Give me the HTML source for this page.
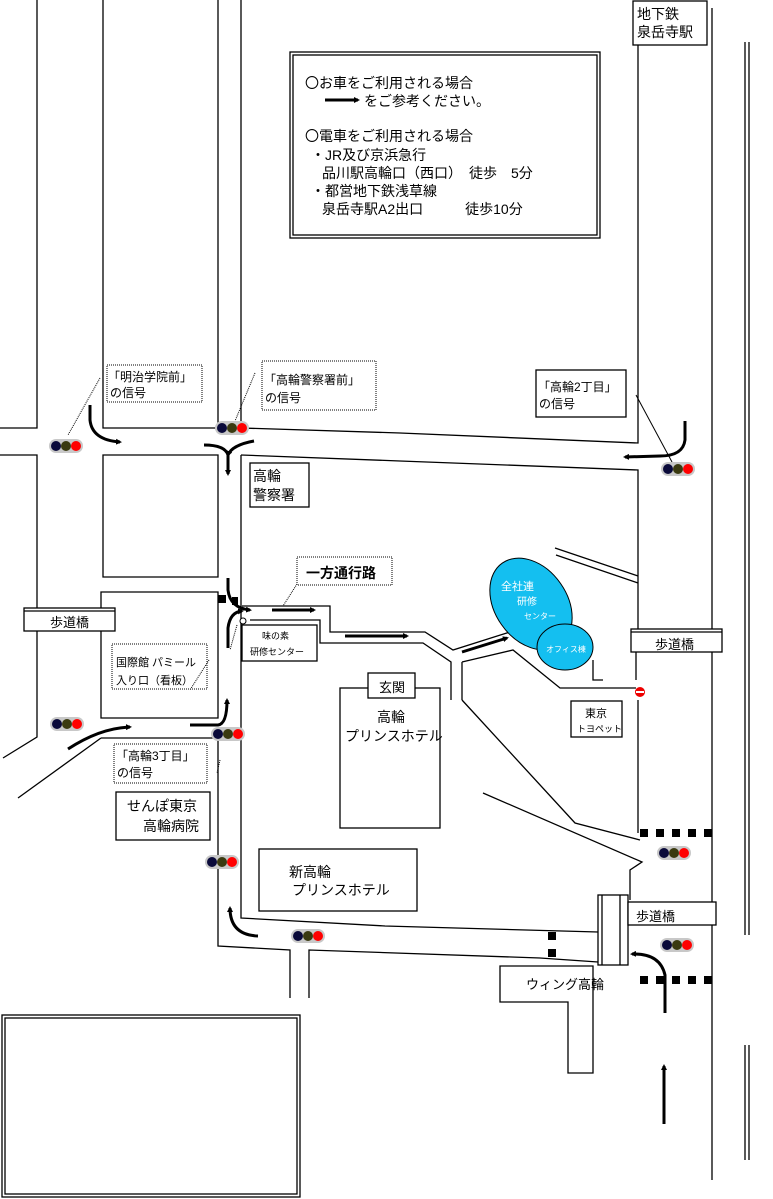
<!DOCTYPE html>
<html><head><meta charset="utf-8"><style>
body{margin:0;background:#fff;}
svg{display:block;font-family:"Liberation Sans","Noto Sans CJK JP",sans-serif;}
</style></head><body>
<svg width="773" height="1199" viewBox="0 0 773 1199" font-size="13">
<defs>
<marker id="ah" markerWidth="6" markerHeight="6" refX="4" refY="3" orient="auto" markerUnits="userSpaceOnUse"><path d="M0,0 L6,3 L0,6 z" fill="#000"/></marker>
<g id="sig"><rect x="-17" y="-7" width="34" height="14" rx="7" fill="#c8c8c8"/><circle cx="-10" cy="0" r="5" fill="#0a0a3a"/><circle cx="0" cy="0" r="5" fill="#3a3a10"/><circle cx="10" cy="0" r="5" fill="#ff0000"/></g>
</defs>
<g stroke="#000" stroke-width="1.3" fill="none">
<path d="M37,0V428H0"/><path d="M103,0V428H218V0"/><path d="M241,0V428L400,433L638,443V45"/>
<path d="M0,455H37V737L3,758"/>
<path d="M241,455L400,461L638,470V650"/>
<path d="M103,455H218V577H103Z"/>
<path d="M101,592H218V718H101Z"/>
<path d="M101,738H218V946L290,950V998"/>
<path d="M101,738L18,798"/>
<path d="M241,455V918L385,926L598,932"/>
<path d="M309,998V950L540,958L598,962"/>
<path d="M712,8V1180"/>
<path d="M745,42V935M749,42V935M745,1045V1160M749,1045V1160"/>
<path d="M242,606H330V632H425L453,650L513,631"/>
<path d="M250,620H320V643H423L451,662V700"/>
<path d="M462,662V700M462,662L513,650L560,688H636"/>
<path d="M462,700L575,823L640,840"/>
<path d="M483,793L642,862L630,870V900"/>
<path d="M638,700V833"/>
<path d="M555,548L638,576M556,555L638,583"/>
<path d="M593,660V680H603M636,652V680"/>
<rect x="290" y="52" width="310" height="186"/><rect x="293" y="55" width="304" height="180"/>
<rect x="2" y="1015" width="298" height="182"/><rect x="5" y="1018" width="292" height="176"/>
<rect x="250" y="463" width="59" height="44"/>
<rect x="242" y="625" width="75" height="36"/>
<rect x="340" y="688" width="100" height="140"/>
<rect x="368" y="673" width="47" height="25" fill="#fff"/>
<rect x="571" y="701" width="51" height="36"/>
<rect x="116" y="792" width="94" height="48"/>
<rect x="259" y="849" width="158" height="62"/>
<rect x="633" y="1" width="74" height="44" fill="#fff"/>
<rect x="536" y="370" width="90" height="47"/>
<rect x="24" y="608" width="91" height="23" fill="#fff"/><path d="M24,611H115"/>
<rect x="631" y="629" width="91" height="23" fill="#fff"/><path d="M631,632H722"/>
<rect x="598" y="895" width="30" height="70" fill="#fff"/><path d="M602,895V965M620,895V965"/>
<rect x="628" y="902" width="88" height="23" fill="#fff"/>
<path d="M500,966H593V1073H568V1002H500Z" fill="#fff"/>
</g>
<g stroke="#000" stroke-width="1" stroke-dasharray="1,1" fill="none">
<rect x="107" y="365" width="95" height="37"/><rect x="262" y="361" width="114" height="49"/>
<rect x="114" y="744" width="93" height="39"/><rect x="112" y="644" width="95" height="45"/>
<rect x="297" y="557" width="95" height="28"/>
<path d="M100,378L68,435M255,373L235,421M209,660L190,690M220,760L217,773M297,584L283,606M237,625L230,650"/>
</g>
<path d="M636,395L672,462" stroke="#000" stroke-width="1"/>
<g fill="#000">
<rect x="218" y="595" width="8" height="8"/><rect x="232" y="597" width="6" height="8"/>
<rect x="640" y="829" width="8" height="8"/><rect x="656" y="829" width="8" height="8"/><rect x="672" y="829" width="8" height="8"/><rect x="688" y="829" width="8" height="8"/><rect x="704" y="829" width="8" height="8"/>
<rect x="640" y="976" width="8" height="8"/><rect x="656" y="976" width="8" height="8"/><rect x="672" y="976" width="8" height="8"/><rect x="688" y="976" width="8" height="8"/><rect x="704" y="976" width="8" height="8"/>
<rect x="548" y="932" width="8" height="8"/><rect x="548" y="949" width="8" height="8"/>
</g>
<ellipse cx="531" cy="604" rx="50" ry="36" transform="rotate(55 531 604)" fill="#14bff0" stroke="#000"/>
<ellipse cx="565" cy="647" rx="28" ry="23" fill="#14bff0" stroke="#000"/>
<circle cx="640" cy="692" r="5" fill="#e00"/><rect x="636" y="691" width="8" height="2" fill="#fff"/>
<circle cx="243" cy="621" r="3" fill="#fff" stroke="#000"/>
<g stroke="#000" stroke-width="3" fill="none" marker-end="url(#ah)">
<path d="M90,405V420Q92,440 120,442"/>
<path d="M204,445Q225,445 228,455V474"/><path d="M254,441Q232,445 228,455"/>
<path d="M685,421V440Q683,456 660,456L625,457"/>
<path d="M228,578V590Q230,608 250,610"/>
<path d="M228,648V628Q230,612 242,611"/>
<path d="M68,749Q100,728 130,727"/><path d="M190,725H218Q227,724 227,700"/>
<path d="M272,610H314"/><path d="M345,636H407"/><path d="M462,652L507,638"/>
<path d="M258,936Q230,935 230,908"/>
<path d="M665,1013V975Q660,953 632,954"/>
<path d="M664,1124V1066"/>
<path d="M325,100H358"/>
</g>
<g>
<use href="#sig" x="66" y="446"/><use href="#sig" x="232" y="428"/><use href="#sig" x="678" y="469"/>
<use href="#sig" x="67" y="724"/><use href="#sig" x="228" y="734"/><use href="#sig" x="222" y="862"/>
<use href="#sig" x="308" y="936"/><use href="#sig" x="674" y="853"/><use href="#sig" x="677" y="945"/>
</g>
<text x="305" y="88" font-size="14">〇お車をご利用される場合</text>
<text x="364" y="106" font-size="14">をご参考ください。</text>
<text x="305" y="141" font-size="14">〇電車をご利用される場合</text>
<text x="311" y="160" font-size="14">・JR及び京浜急行</text>
<text x="322" y="178" font-size="14">品川駅高輪口（西口）　徒歩　5分</text>
<text x="311" y="196" font-size="14">・都営地下鉄浅草線</text>
<text x="322" y="214" font-size="14">泉岳寺駅A2出口　　　徒歩10分</text>
<text x="637" y="19" font-size="14">地下鉄</text><text x="637" y="37" font-size="14">泉岳寺駅</text>
<text x="108" y="381" font-size="12">「明治学院前」</text><text x="110" y="397" font-size="12">の信号</text>
<text x="264" y="384" font-size="12">「高輪警察署前」</text><text x="265" y="402" font-size="12">の信号</text>
<text x="538" y="391" font-size="12">「高輪2丁目」</text><text x="539" y="408" font-size="12">の信号</text>
<text x="253" y="481" font-size="14">高輪</text><text x="253" y="500" font-size="14">警察署</text>
<text x="306" y="578" font-weight="bold" font-size="14">一方通行路</text>
<text x="50" y="627">歩道橋</text>
<text x="655" y="649">歩道橋</text>
<text x="636" y="921">歩道橋</text>
<text x="262" y="639" font-size="9">味の素</text><text x="250" y="655" font-size="9">研修センター</text>
<text x="116" y="666" font-size="11">国際館 パミール</text><text x="116" y="684" font-size="11">入り口（看板）</text>
<text x="501" y="590" font-size="11" fill="#fff">全社連</text>
<text x="517" y="605" font-size="10" fill="#fff">研修</text>
<text x="524" y="619" font-size="8" fill="#fff">センター</text>
<text x="546" y="652" font-size="8" fill="#fff">オフィス棟</text>
<text x="379" y="692">玄関</text>
<text x="377" y="722" font-size="14">高輪</text><text x="345" y="741" font-size="14">プリンスホテル</text>
<text x="585" y="717" font-size="11">東京</text><text x="577" y="732" font-size="9">トヨペット</text>
<text x="116" y="760" font-size="12">「高輪3丁目」</text><text x="117" y="777" font-size="12">の信号</text>
<text x="127" y="811" font-size="14">せんぽ東京</text><text x="143" y="831" font-size="14">高輪病院</text>
<text x="289" y="877" font-size="14">新高輪</text><text x="292" y="895" font-size="14">プリンスホテル</text>
<text x="526" y="989">ウィング高輪</text>
</svg>
</body></html>
